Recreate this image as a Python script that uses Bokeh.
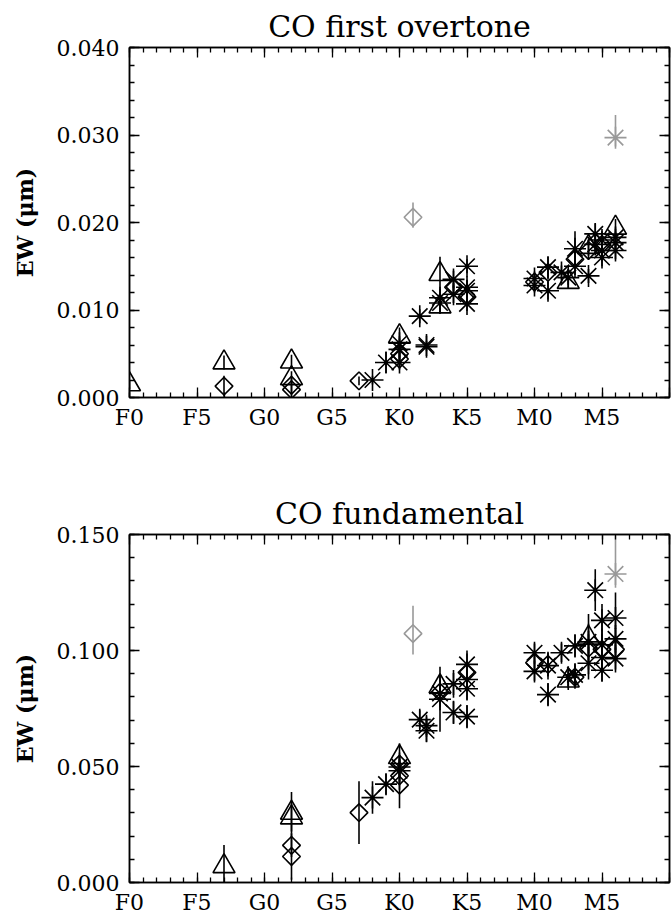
import numpy as np
from bokeh.plotting import figure
from bokeh.models import ColumnDataSource, FixedTicker, LinearAxis, Range1d
from bokeh.layouts import column
from bokeh.embed import file_html
from bokeh.resources import INLINE

# Spectral-type axis: F0=0, F5=5, G0=10, G5=15, K0=20, K5=25, M0=30, M5=35
sp_ticks = [0, 5, 10, 15, 20, 25, 30, 35, 40]
sp_labels = ["F0", "F5", "G0", "G5", "K0", "K5", "M0", "M5", ""]

# ---------------- CO first overtone (top) ----------------
ov_tri_x = [0, 7, 12, 12, 20, 23, 23, 32.5, 34, 36]
ov_tri_y = [0.0015, 0.0040, 0.0041, 0.0022, 0.0070, 0.0141, 0.0104, 0.0132, 0.0172, 0.0194]
ov_tri_e = [0.0005, 0.0008, 0.0008, 0.0008, 0.0010, 0.0020, 0.0008, 0.0008, 0.0010, 0.0010]

ov_dia_x = [7, 12, 12, 17, 20, 20, 24, 25, 30, 31, 33, 34, 35]
ov_dia_y = [0.0013, 0.0014, 0.0009, 0.0019, 0.0050, 0.0044, 0.0126, 0.0115, 0.0132, 0.0143, 0.0158, 0.0168, 0.0175]
ov_dia_e = [0.0012, 0.0010, 0.0008, 0.0005, 0.0008, 0.0008, 0.0010, 0.0008, 0.0008, 0.0008, 0.0010, 0.0010, 0.0010]

ov_ast_x = [18, 19, 20, 20, 20, 21.5, 22, 22, 23, 23, 24, 24, 25, 25, 25, 25,
            30, 30, 31, 31, 32, 32.5, 33, 33, 34, 34.5, 34.5, 35, 35, 35, 36, 36, 36]
ov_ast_y = [0.0020, 0.0040, 0.0062, 0.0055, 0.0040, 0.0093, 0.0058, 0.0060, 0.0114, 0.0108,
            0.0135, 0.0118, 0.0150, 0.0126, 0.0122, 0.0107,
            0.0136, 0.0128, 0.0149, 0.0122, 0.0143, 0.0137, 0.0170, 0.0150, 0.0139,
            0.0187, 0.0175, 0.0180, 0.0168, 0.0160, 0.0183, 0.0177, 0.0168]
ov_ast_e = [0.0005, 0.0012, 0.0008, 0.0008, 0.0008, 0.0008, 0.0005, 0.0005, 0.0010, 0.0010,
            0.0010, 0.0010, 0.0008, 0.0008, 0.0008, 0.0008,
            0.0008, 0.0008, 0.0012, 0.0010, 0.0008, 0.0008, 0.0020, 0.0010, 0.0008,
            0.0012, 0.0010, 0.0010, 0.0010, 0.0010, 0.0010, 0.0010, 0.0010]

ov_gdia_x = [21]
ov_gdia_y = [0.0206]
ov_gdia_lo = [0.0012]
ov_gdia_hi = [0.0017]
ov_gast_x = [36]
ov_gast_y = [0.0297]
ov_gast_lo = [0.0010]
ov_gast_hi = [0.0026]

# ---------------- CO fundamental (bottom) ----------------
fu_tri_x = [7, 12, 12, 20, 23, 32.5, 34]
fu_tri_y = [0.0070, 0.0300, 0.0280, 0.0540, 0.0845, 0.0870, 0.1055]
fu_tri_e = [0.0092, 0.0090, 0.0060, 0.0060, 0.0050, 0.0040, 0.0060]

fu_dia_x = [12, 12, 17, 20, 20, 20, 23, 25, 30, 31, 33, 34, 35, 36]
fu_dia_y = [0.0160, 0.0112, 0.0301, 0.0510, 0.0460, 0.0420, 0.0820, 0.0905, 0.0947, 0.0940,
            0.0885, 0.1010, 0.1005, 0.1005]
fu_dia_e = [0.0050, 0.0100, 0.0135, 0.0050, 0.0060, 0.0100, 0.0050, 0.0050, 0.0050, 0.0050,
            0.0050, 0.0060, 0.0060, 0.0060]

fu_ast_x = [18, 19, 20, 20, 21.5, 22, 22, 23, 23, 24, 24, 25, 25, 25, 25,
            30, 30, 31, 31, 32, 32.5, 33, 33, 34, 34, 34.5, 35, 35, 35, 35, 36, 36, 36]
fu_ast_y = [0.0366, 0.0424, 0.0498, 0.0482, 0.0702, 0.0676, 0.0654, 0.0815, 0.0790,
            0.0856, 0.0733, 0.0940, 0.0875, 0.0835, 0.0715,
            0.0990, 0.0910, 0.0935, 0.0810, 0.0990, 0.0885, 0.1020, 0.0895, 0.1037, 0.0945,
            0.1260, 0.1130, 0.1025, 0.0970, 0.0915, 0.1140, 0.1050, 0.0965]
fu_ast_e = [0.0070, 0.0045, 0.0050, 0.0050, 0.0040, 0.0040, 0.0050, 0.0060, 0.0140,
            0.0060, 0.0050, 0.0060, 0.0050, 0.0050, 0.0050,
            0.0040, 0.0040, 0.0060, 0.0050, 0.0040, 0.0040, 0.0050, 0.0050, 0.0120, 0.0070,
            0.0090, 0.0070, 0.0070, 0.0050, 0.0050, 0.0110, 0.0060, 0.0060]

fu_gdia_x = [21]
fu_gdia_y = [0.1073]
fu_gdia_lo = [0.0090]
fu_gdia_hi = [0.0120]
fu_gast_x = [36]
fu_gast_y = [0.1330]
fu_gast_lo = [0.0060]
fu_gast_hi = [0.0200]

SERIF = "DejaVu Serif"
BLACK = "black"
GRAY = "#999999"


def sym_src(x, y, e):
    y = np.asarray(y); e = np.asarray(e)
    return ColumnDataSource(dict(x=x, y=y, y0=y - e, y1=y + e))


def asym_src(x, y, lo, hi):
    y = np.asarray(y)
    return ColumnDataSource(dict(x=x, y=y, y0=y - np.asarray(lo), y1=y + np.asarray(hi)))


def style_axis(ax, show_labels=True):
    ax.axis_line_width = 1.5
    ax.axis_line_color = "black"
    ax.major_tick_in = 10
    ax.major_tick_out = 0
    ax.minor_tick_in = 5
    ax.minor_tick_out = 0
    ax.major_tick_line_width = 1.3
    ax.minor_tick_line_width = 1.3
    ax.major_tick_line_color = "black"
    ax.minor_tick_line_color = "black"
    if show_labels:
        ax.major_label_text_font = SERIF
        ax.major_label_text_font_size = "22px"
        ax.major_label_text_color = "black"
    else:
        ax.major_label_text_color = None
        ax.major_label_text_alpha = 0
        ax.major_label_standoff = 0


def panel(title, ymax, yticks, yminor, ylabels, frame_h, b_top, b_bottom,
          tri, dia, ast, gdia, gast):
    p = figure(frame_width=540, frame_height=frame_h,
               x_range=Range1d(0, 40), y_range=Range1d(0, ymax),
               output_backend="svg", toolbar_location=None,
               min_border_left=129, min_border_right=2,
               min_border_top=b_top, min_border_bottom=b_bottom,
               background_fill_color="white", border_fill_color="white",
               outline_line_color="black", outline_line_width=1.5)
    p.xgrid.visible = False
    p.ygrid.visible = False
    p.title.text = title
    p.title.align = "center"
    p.title.text_font = SERIF
    p.title.text_font_size = "30px"
    p.title.text_font_style = "normal"
    p.title.text_color = "black"
    p.title.standoff = 8

    xt = FixedTicker(ticks=sp_ticks, minor_ticks=list(range(0, 41)))
    yt = FixedTicker(ticks=yticks, minor_ticks=yminor)

    p.xaxis.ticker = xt
    p.xaxis.major_label_overrides = {t: l for t, l in zip(sp_ticks, sp_labels)}
    p.yaxis.ticker = yt
    p.yaxis.major_label_overrides = {t: l for t, l in zip(yticks, ylabels)}
    for ax in p.xaxis:
        style_axis(ax)
        ax.major_label_standoff = 7
    for ax in p.yaxis:
        style_axis(ax)
        ax.major_label_standoff = 10
        ax.axis_label = "EW (\u03bcm)"
        ax.axis_label_text_font = SERIF
        ax.axis_label_text_font_size = "22px"
        ax.axis_label_text_font_style = "bold"
        ax.axis_label_text_color = "black"
        ax.axis_label_standoff = 16

    top = LinearAxis(ticker=FixedTicker(ticks=sp_ticks, minor_ticks=list(range(0, 41))))
    style_axis(top, show_labels=False)
    p.add_layout(top, "above")
    right = LinearAxis(ticker=FixedTicker(ticks=yticks, minor_ticks=yminor))
    style_axis(right, show_labels=False)
    p.add_layout(right, "right")

    lw = 1.6
    groups = [(tri, "triangle", 22, BLACK, 0.0),
              (dia, "square", 12.5, BLACK, np.pi / 4),
              (ast, "asterisk", 22, BLACK, 0.0),
              (gdia, "square", 12.5, GRAY, np.pi / 4),
              (gast, "asterisk", 22, GRAY, 0.0)]
    for src, _, _, col, _ in groups:
        p.segment(x0="x", y0="y0", x1="x", y1="y1", source=src,
                  line_color=col, line_width=lw)
    for src, mk, sz, col, ang in groups:
        p.scatter(x="x", y="y", source=src, marker=mk, size=sz, angle=ang,
                  fill_color=None, line_color=col, line_width=lw)
    return p


p1 = panel("CO first overtone", 0.040,
           [0.0, 0.01, 0.02, 0.03, 0.04],
           [round(0.002 * i, 3) for i in range(21)],
           ["0.000", "0.010", "0.020", "0.030", "0.040"],
           350, 47, 50,
           sym_src(ov_tri_x, ov_tri_y, ov_tri_e),
           sym_src(ov_dia_x, ov_dia_y, ov_dia_e),
           sym_src(ov_ast_x, ov_ast_y, ov_ast_e),
           asym_src(ov_gdia_x, ov_gdia_y, ov_gdia_lo, ov_gdia_hi),
           asym_src(ov_gast_x, ov_gast_y, ov_gast_lo, ov_gast_hi))

p2 = panel("CO fundamental", 0.150,
           [0.0, 0.05, 0.1, 0.15],
           [round(0.01 * i, 2) for i in range(16)],
           ["0.000", "0.050", "0.100", "0.150"],
           348, 87, 36,
           sym_src(fu_tri_x, fu_tri_y, fu_tri_e),
           sym_src(fu_dia_x, fu_dia_y, fu_dia_e),
           sym_src(fu_ast_x, fu_ast_y, fu_ast_e),
           asym_src(fu_gdia_x, fu_gdia_y, fu_gdia_lo, fu_gdia_hi),
           asym_src(fu_gast_x, fu_gast_y, fu_gast_lo, fu_gast_hi))

layout = column(p1, p2, spacing=0)
open("out.html", "w").write(file_html(layout, INLINE))
